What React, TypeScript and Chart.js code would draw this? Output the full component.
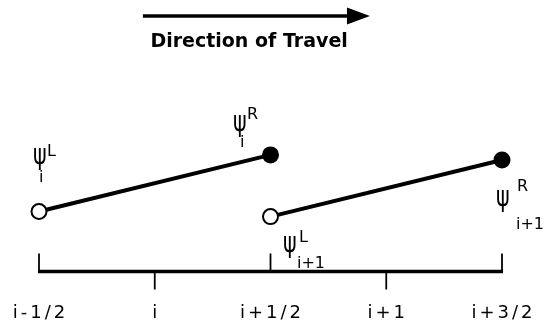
import React, { useEffect, useRef } from "react";
import { Chart, registerables } from "chart.js";

Chart.register(...registerables);

// ---- data ----
const cellNames = ["i", "i+1"];
const cellLeftEdge = [-0.5, 0.5];
const cellRightEdge = [0.5, 1.5];
const psiLeft = [0.35, 0.32];   // psi^L values (open circles)
const psiRight = [0.68, 0.65];  // psi^R values (filled circles)
const tickValues = [-0.5, 0, 0.5, 1, 1.5];
const tickLabels = ["i-1/2", "i", "i+1/2", "i+1", "i+3/2"];
const titleText = "Direction of Travel";

// label annotations: [dataset, pointIndex, sup, sub, dx, dy, supDx, supDy, subDx, subDy]
const psiLabels: [number, number, string, string, number, number, number, number, number, number][] = [
  [0, 0, "L", cellNames[0], -6, -47, 14, -8, 6, 18],
  [0, 1, "R", cellNames[0], -37.5, -24, 14, -12, 7, 16],
  [1, 0, "L", cellNames[1], 12.5, 35, 16, -10, 14, 16],
  [1, 1, "R", cellNames[1], -6, 46, 21, -15, 20, 23],
];

const FONT = '"DejaVu Sans", sans-serif';

const decorPlugin = {
  id: "decor",
  afterDraw(chart: any) {
    const ctx = chart.ctx as CanvasRenderingContext2D;
    const xs = chart.scales.x;
    const ys = chart.scales.y;
    const y0 = ys.getPixelForValue(0);
    ctx.save();
    ctx.strokeStyle = "#000";
    ctx.fillStyle = "#000";

    // axis baseline
    const xa = xs.getPixelForValue(tickValues[0]);
    const xb = xs.getPixelForValue(tickValues[tickValues.length - 1]);
    ctx.lineWidth = 3.5;
    ctx.beginPath();
    ctx.moveTo(xa - 1, y0);
    ctx.lineTo(xb + 1, y0);
    ctx.stroke();

    // ticks: cell faces up, cell centers down
    ctx.lineWidth = 1.8;
    tickValues.forEach((v, i) => {
      const px = xs.getPixelForValue(v);
      const isFace = Math.abs(v - Math.round(v)) > 0.25;
      ctx.beginPath();
      if (isFace) {
        ctx.moveTo(px, y0);
        ctx.lineTo(px, y0 - 18);
      } else {
        ctx.moveTo(px, y0);
        ctx.lineTo(px, y0 + 18);
      }
      ctx.stroke();
      // tick label
      ctx.font = `18px ${FONT}`;
      (ctx as any).letterSpacing = "3px";
      ctx.textAlign = "center";
      ctx.textBaseline = "alphabetic";
      ctx.fillText(tickLabels[i], px + 1.5, y0 + 46);
    });
    (ctx as any).letterSpacing = "0px";

    // psi labels
    psiLabels.forEach(([ds, idx, sup, sub, dx, dy, sdx, sdy, bdx, bdy]) => {
      const pt = chart.getDatasetMeta(ds).data[idx];
      const bx = pt.x + dx;
      const by = pt.y + dy;
      ctx.textAlign = "left";
      ctx.textBaseline = "alphabetic";
      ctx.save();
      ctx.translate(bx, by);
      ctx.scale(0.74, 1);
      ctx.font = `28px ${FONT}`;
      ctx.fillText("\u03C8", 0, 0);
      ctx.restore();
      ctx.font = `16px ${FONT}`;
      ctx.fillText(sup, bx + sdx, by + sdy);
      ctx.fillText(sub, bx + bdx, by + bdy);
    });

    // direction arrow
    const w = chart.width;
    const ax0 = w * 0.257;
    const ax1 = w * 0.624;
    const ay = 16;
    ctx.lineWidth = 3.5;
    ctx.beginPath();
    ctx.moveTo(ax0, ay);
    ctx.lineTo(ax1, ay);
    ctx.stroke();
    ctx.beginPath();
    ctx.moveTo(ax1, ay - 8.5);
    ctx.lineTo(ax1 + 23, ay);
    ctx.lineTo(ax1, ay + 8.5);
    ctx.closePath();
    ctx.fill();

    ctx.font = `bold 19px ${FONT}`;
    ctx.textAlign = "center";
    ctx.textBaseline = "alphabetic";
    ctx.fillText(titleText, w * 0.448, 47);
    ctx.restore();
  },
};

export default function App() {
  const ref = useRef<HTMLCanvasElement | null>(null);
  useEffect(() => {
    if (!ref.current) return;
    const datasets = cellNames.map((_, k) => ({
      label: "cell " + cellNames[k],
      data: [
        { x: cellLeftEdge[k], y: psiLeft[k] },
        { x: cellRightEdge[k], y: psiRight[k] },
      ],
      borderColor: "#000",
      borderWidth: 4,
      showLine: true,
      pointRadius: 7.5,
      pointBorderWidth: 2,
      pointBorderColor: "#000",
      pointBackgroundColor: ["#fff", "#000"],
      clip: false as any,
    }));
    const chart = new Chart(ref.current, {
      type: "scatter",
      data: { datasets },
      options: {
        animation: false,
        responsive: false,
        events: [],
        layout: { padding: { left: 39, right: 54, top: 100, bottom: 51.5 } },
        plugins: { legend: { display: false }, tooltip: { enabled: false }, title: { display: false } },
        scales: {
          x: { type: "linear", min: -0.5, max: 1.5, display: false },
          y: { type: "linear", min: 0, max: 1, display: false },
        },
      },
      plugins: [decorPlugin],
    });
    return () => chart.destroy();
  }, []);
  return (
    <div style={{ position: "absolute", left: 0, top: 0, width: 556, height: 323, background: "#fff" }}>
      <canvas ref={ref} width={556} height={323} style={{ display: "block" }} />
    </div>
  );
}
